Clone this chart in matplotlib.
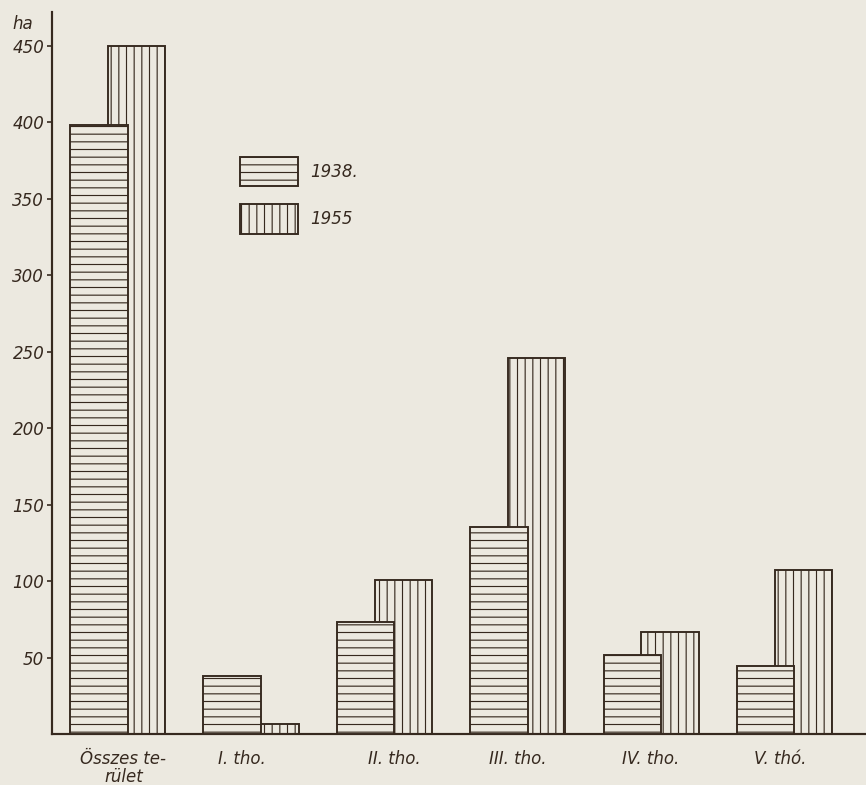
import numpy as np
import matplotlib
matplotlib.use('Agg')
import matplotlib.pyplot as plt

# ---- data ----
categories = ['Összes te-\nrület', 'I. tho.', 'II. tho.', 'III. tho.', 'IV. tho.', 'V. thó.']
area_1938 = [398, 38, 73, 135.5, 51.5, 44.5]
area_1955 = [450, 6.5, 100.5, 246, 66.5, 107]
series_labels = ['1938.', '1955']
yticks = [50, 100, 150, 200, 250, 300, 350, 400, 450]
y_unit = 'ha'

# ---- style ----
DPI = 92
W, H = 866, 785
paper = '#ece9e0'
ink = '#36291f'
label_shift = [0.40, 0.29, 0.43, 0.36, 0.35, 0.32]  # hand-lettered label placement

plt.rcParams['hatch.linewidth'] = 0.9
plt.rcParams['hatch.color'] = ink
plt.rcParams['font.family'] = ['DejaVu Sans']
plt.rcParams['font.style'] = 'italic'

fig = plt.figure(figsize=(W / DPI, H / DPI), dpi=DPI, facecolor=paper)
ax = fig.add_axes([52 / W, 51 / H, 1 - 52 / W, 722 / H])
ax.set_facecolor(paper)

x = np.arange(len(categories))
bw = 0.431
off = 0.283
b55 = ax.bar(x + off, area_1955, width=bw, align='edge', facecolor=paper,
             edgecolor=ink, linewidth=1.5, hatch='||', zorder=2, label=series_labels[1])
b38 = ax.bar(x, area_1938, width=bw, align='edge', facecolor=paper,
             edgecolor=ink, linewidth=1.5, hatch='--', zorder=3, label=series_labels[0])

ax.set_xlim(-0.135, 5.967)
ax.set_ylim(0, 471.9)

ax.set_yticks(yticks)
ax.tick_params(axis='y', direction='out', length=4, width=1.3, pad=2,
               labelsize=13, colors=ink)
ax.set_xticks(x + np.array(label_shift), categories)
ax.tick_params(axis='x', length=0, pad=12.5, labelsize=13, colors=ink)
for lab in ax.get_xticklabels():
    lab.set_linespacing(1.0)

for s in ['top', 'right']:
    ax.spines[s].set_visible(False)
for s in ['left', 'bottom']:
    ax.spines[s].set_linewidth(1.7)
    ax.spines[s].set_color(ink)

leg = ax.legend(handles=[b38, b55], labels=series_labels, loc='upper left',
                bbox_to_anchor=(240 / W, 1 - 156.7 / H), bbox_transform=fig.transFigure,
                frameon=False, borderpad=0, borderaxespad=0, handlelength=3.5,
                handleheight=2.35, handletextpad=0.72, labelspacing=1.08, fontsize=13)
for t in leg.get_texts():
    t.set_color(ink)

fig.text(12 / W, 1 - 24 / H, y_unit, ha='left', va='center', fontsize=13, color=ink)

fig.savefig('out.png', dpi=DPI, facecolor=paper)
